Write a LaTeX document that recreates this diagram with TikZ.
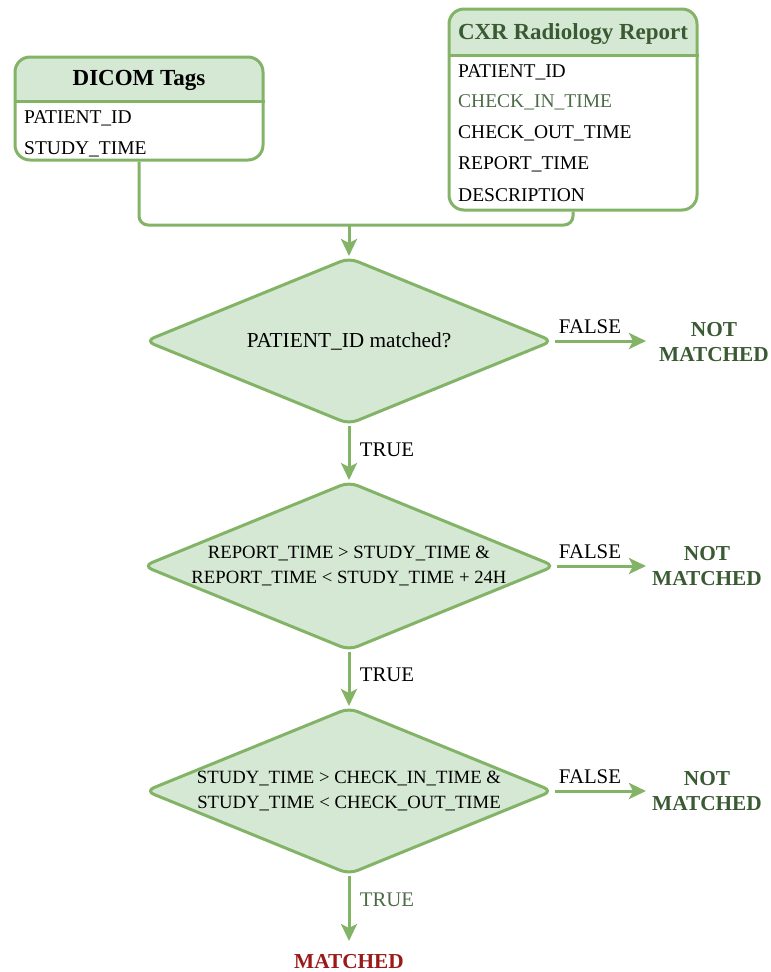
\documentclass[tikz,border=0pt]{standalone}
\usepackage{fontspec}
\setmainfont{Liberation Serif}
\usetikzlibrary{arrows.meta,shapes.geometric}
\definecolor{gfill}{HTML}{D5E8D4}
\definecolor{gline}{HTML}{82B366}
\definecolor{dgreen}{HTML}{3A5A33}
\definecolor{mgreen}{HTML}{4D6B47}
\definecolor{dred}{HTML}{9A1A1A}
\tikzset{
  boxframe/.style={draw=gline, line width=3pt, rounded corners=15pt, inner sep=0pt},
  hdrfill/.style={fill=gfill},
  rowtxt/.style={anchor=west, inner sep=0pt, font=\fontsize{19.5}{21}\selectfont},
  ttl/.style={inner sep=0pt, font=\bfseries\fontsize{23}{25}\selectfont},
  decision/.style={diamond, aspect=2.44, draw=gline, fill=gfill, line width=3pt,
    rounded corners=9pt, inner sep=0pt, minimum width=408pt, minimum height=167pt,
    align=center},
  conn/.style={draw=gline, line width=3pt, rounded corners=9pt},
  arr/.style={draw=gline, line width=3pt, -{Stealth[length=17pt,width=16pt,inset=4pt]}},
  lbl/.style={inner sep=0pt, font=\fontsize{20.8}{24}\selectfont},
  nmtxt/.style={inner sep=0pt, align=center, text=dgreen, font=\bfseries\fontsize{21.3}{25}\selectfont},
}
\begin{document}
\begin{tikzpicture}[x=1pt,y=-1pt]
\useasboundingbox (0,0) rectangle (771,972);
% DICOM Tags box
\fill[hdrfill] (15,101) [rounded corners=15pt] -- (15,57) -- (263,57) [sharp corners] -- (263,101) -- cycle;
\node[boxframe, minimum width=248pt, minimum height=103pt] (dicom) at (139,108.5) {};
\draw[gline, line width=3pt] (dicom.west |- 0,101) -- (dicom.east |- 0,101);
\node[ttl] (dicomttl) at (139,80) {DICOM Tags};
\node[rowtxt] (d1row) at (24,118) {PATIENT\_ID};
\node[rowtxt] (d2row) at (24,149) {STUDY\_TIME};
% CXR box
\fill[hdrfill] (449,55) [rounded corners=15pt] -- (449,9) -- (697,9) [sharp corners] -- (697,55) -- cycle;
\node[boxframe, minimum width=248pt, minimum height=201pt] (cxr) at (573,109.5) {};
\draw[gline, line width=3pt] (cxr.west |- 0,55) -- (cxr.east |- 0,55);
\node[ttl, text=dgreen] (cxrttl) at (573,34) {CXR Radiology Report};
\node[rowtxt] (c1row) at (458,72) {PATIENT\_ID};
\node[rowtxt, text=mgreen] (c2row) at (458,102) {CHECK\_IN\_TIME};
\node[rowtxt] (c3row) at (458,133) {CHECK\_OUT\_TIME};
\node[rowtxt] (c4row) at (458,164) {REPORT\_TIME};
\node[rowtxt] (c5row) at (458,195) {DESCRIPTION};
% merge
\coordinate (merge) at (349,225);
\draw[conn] (dicom.south) |- (merge);
\draw[conn] (cxr.south) |- (merge);
% decisions
\node[decision, font=\fontsize{21.3}{25}\selectfont] (dec1) at (349,341) {PATIENT\_ID matched?};
\node[decision, font=\fontsize{18.7}{25}\selectfont] (dec2) at (349,566) {REPORT\_TIME > STUDY\_TIME \&\\REPORT\_TIME < STUDY\_TIME + 24H};
\node[decision, font=\fontsize{18.7}{25}\selectfont] (dec3) at (349,791) {STUDY\_TIME > CHECK\_IN\_TIME \&\\STUDY\_TIME < CHECK\_OUT\_TIME};
\draw[arr] (merge) -- (dec1.north);
% results
\node[nmtxt] (nm1) at (714,342) {NOT\\MATCHED};
\node[nmtxt] (nm2) at (707,566) {NOT\\MATCHED};
\node[nmtxt] (nm3) at (707,791) {NOT\\MATCHED};
\node[inner sep=0pt, text=dred, font=\bfseries\fontsize{21.3}{25}\selectfont] (matched) at (349,962) {MATCHED};
% false arrows
\coordinate (f1end) at (646,341);
\coordinate (f2end) at (646,566);
\coordinate (f3end) at (646,791);
\draw[arr] (dec1.east) -- (f1end);
\draw[arr] (dec2.east) -- (f2end);
\draw[arr] (dec3.east) -- (f3end);
\node[lbl] (fl1) at (590,327) {FALSE};
\node[lbl] (fl2) at (590,552) {FALSE};
\node[lbl] (fl3) at (590,777) {FALSE};
% true arrows
\draw[arr] (dec1.south) -- (dec2.north);
\draw[arr] (dec2.south) -- (dec3.north);
\coordinate (t3end) at (349,941);
\draw[arr] (dec3.south) -- (t3end);
\node[lbl] (tl1) at (387,450) {TRUE};
\node[lbl] (tl2) at (387,675) {TRUE};
\node[lbl, text=mgreen] (tl3) at (387,900) {TRUE};
\end{tikzpicture}
\end{document}
